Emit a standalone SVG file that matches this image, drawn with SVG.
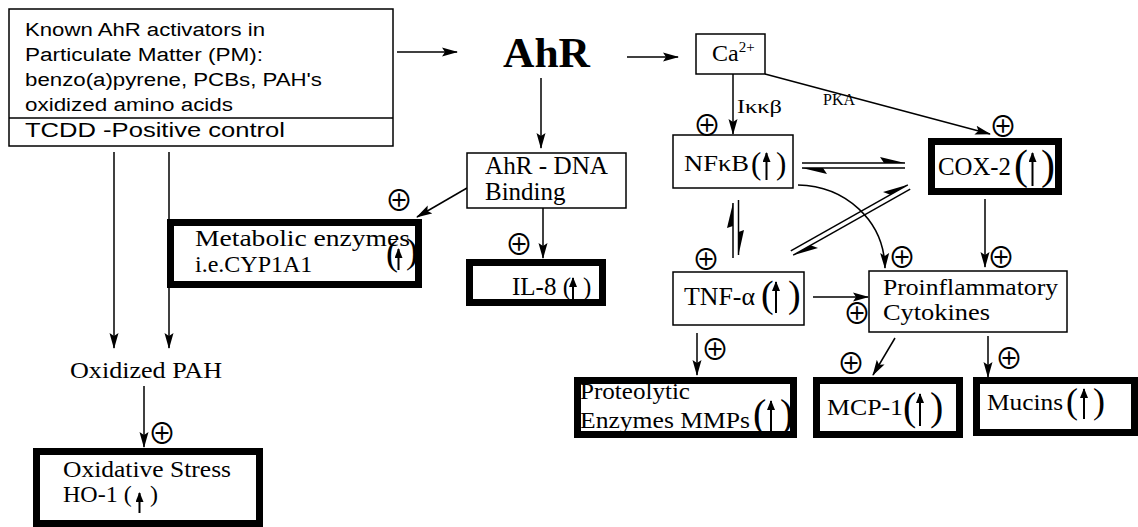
<svg xmlns="http://www.w3.org/2000/svg" width="1138" height="527" viewBox="0 0 1138 527">
<style>
.box{fill:#fff;stroke:#000;stroke-width:1.5}
.thick{fill:#fff;stroke:#000;stroke-width:7}
.ser{font-family:"Liberation Serif","Times New Roman",serif;fill:#000}
.sans{font-family:"Liberation Sans",Arial,sans-serif;fill:#000}
.con{stroke:#000;stroke-width:1.5;fill:none}
.up{stroke:#000;stroke-width:2;fill:none}
.plus{font-family:"Noto Sans CJK JP","DejaVu Sans",sans-serif;font-size:28px;font-weight:400;text-anchor:middle;dominant-baseline:central;fill:#000}
.barb{fill:#000;stroke:none}
</style>
<defs>
<marker id="ah" markerWidth="16" markerHeight="10" refX="15" refY="5" orient="auto" markerUnits="userSpaceOnUse"><path d="M0,0.5 L16,5 L0,9.5 L3,5 z" fill="#000"/></marker>
<marker id="sh" markerWidth="10" markerHeight="8" refX="9" refY="4" orient="auto" markerUnits="userSpaceOnUse"><path d="M0,0 L10,4 L0,8 z" fill="#000"/></marker>
</defs>
<rect width="1138" height="527" fill="#fff"/>

<g id="connectors">
<line class="con" x1="397" y1="52" x2="457" y2="52" marker-end="url(#ah)"/>
<line class="con" x1="627" y1="57" x2="678" y2="57" marker-end="url(#ah)"/>
<line class="con" x1="541" y1="78" x2="541" y2="148" marker-end="url(#ah)"/>
<line class="con" x1="733" y1="74" x2="733" y2="134" marker-end="url(#ah)"/>
<line class="con" x1="765" y1="74" x2="990" y2="134" marker-end="url(#ah)"/>
<line class="con" x1="467" y1="188" x2="417" y2="217" marker-end="url(#ah)"/>
<line class="con" x1="543" y1="208" x2="543" y2="258" marker-end="url(#ah)"/>
<line class="con" x1="114" y1="152" x2="114" y2="348" marker-end="url(#ah)"/>
<line class="con" x1="169" y1="152" x2="169" y2="348" marker-end="url(#ah)"/>
<line class="con" x1="144" y1="386" x2="144" y2="447" marker-end="url(#ah)"/>
<line class="con" x1="802" y1="163" x2="905" y2="163"/>
<polygon class="barb" points="905,163 880,157 884,163"/>
<line class="con" x1="802" y1="168" x2="905" y2="168"/>
<polygon class="barb" points="802,168 827,174 823,168"/>
<path class="con" d="M798,185 C845,186 884,220 885,268" marker-end="url(#ah)"/>
<line class="con" x1="733" y1="203" x2="733" y2="258"/>
<polygon class="barb" points="733,203 727,228 733,226"/>
<line class="con" x1="738.5" y1="200" x2="738.5" y2="255"/>
<polygon class="barb" points="738.5,255 744,230 738.5,232"/>
<line class="con" x1="790.8" y1="250.8" x2="907.8" y2="184.8"/>
<polygon class="barb" points="907.8,184.8 883,191.9 890.3,194.7"/>
<line class="con" x1="793.2" y1="255.2" x2="910.2" y2="189.2"/>
<polygon class="barb" points="793.2,255.2 818,248.1 810.7,245.3"/>
<line class="con" x1="985" y1="199" x2="985" y2="267" marker-end="url(#ah)"/>
<line class="con" x1="813" y1="297" x2="868" y2="297" marker-end="url(#ah)"/>
<line class="con" x1="697" y1="333" x2="697" y2="375" marker-end="url(#ah)"/>
<line class="con" x1="895" y1="338" x2="873" y2="375" marker-end="url(#ah)"/>
<line class="con" x1="988" y1="336" x2="988" y2="377" marker-end="url(#ah)"/>
</g>

<g id="pm-source">
<rect class="box" x="9" y="9" width="384" height="137"/>
<line class="con" x1="9" y1="118" x2="393" y2="118"/>
<text class="sans" font-size="18" x="25" y="36" textLength="240" lengthAdjust="spacingAndGlyphs">Known AhR activators in</text>
<text class="sans" font-size="18" x="25" y="61" textLength="238" lengthAdjust="spacingAndGlyphs">Particulate Matter (PM):</text>
<text class="sans" font-size="18" x="25" y="86" textLength="297" lengthAdjust="spacingAndGlyphs">benzo(a)pyrene, PCBs, PAH's</text>
<text class="sans" font-size="18" x="25" y="111" textLength="208" lengthAdjust="spacingAndGlyphs">oxidized amino acids</text>
<text class="sans" font-size="21" x="25" y="137" textLength="260" lengthAdjust="spacingAndGlyphs">TCDD -Positive control</text>
</g>

<g id="ahr">
<text class="ser" font-size="42" font-weight="bold" x="503" y="67" textLength="87" lengthAdjust="spacingAndGlyphs">AhR</text>
</g>

<g id="ca">
<rect class="box" x="696" y="34" width="69" height="40"/>
<text class="ser" font-size="24" x="712" y="61">Ca<tspan font-size="15" dy="-9">2+</tspan></text>
<text class="ser" font-size="19" x="737" y="113" textLength="45" lengthAdjust="spacingAndGlyphs">Iκκβ</text>
<text class="ser" font-size="16" x="823" y="105">PKA</text>
</g>

<g id="ahr-dna">
<rect class="box" x="467" y="153" width="159" height="55"/>
<text class="ser" font-size="25" x="485" y="174" textLength="123" lengthAdjust="spacingAndGlyphs">AhR - DNA</text>
<text class="ser" font-size="25" x="485" y="200">Binding</text>
</g>

<g id="metabolic">
<rect class="thick" x="170.5" y="222.5" width="248" height="62"/>
<text class="ser" font-size="24" x="195" y="246" textLength="215" lengthAdjust="spacingAndGlyphs">Metabolic enzymes</text>
<text class="ser" font-size="24" x="195" y="272">i.e.CYP1A1</text>
<text class="ser" font-size="36" x="386" y="265">(</text>
<text class="ser" font-size="36" x="406" y="263">)</text>
<line class="up" x1="398.5" y1="270" x2="398.5" y2="249" marker-end="url(#sh)"/>
<text class="plus" x="399" y="199">⊕</text>
</g>

<g id="il8">
<rect class="thick" x="469.5" y="262.5" width="133" height="40"/>
<text class="ser" font-size="25" x="512" y="295">IL-8 (</text>
<text class="ser" font-size="25" x="583" y="295">)</text>
<line class="up" x1="573" y1="300" x2="573" y2="278" marker-end="url(#sh)"/>
<text class="plus" x="519" y="243">⊕</text>
</g>

<g id="nfkb">
<rect class="box" x="673" y="135" width="120" height="53"/>
<text class="ser" font-size="24" x="684" y="171" textLength="65" lengthAdjust="spacingAndGlyphs">NFκB</text>
<text class="ser" font-size="31" x="751" y="174">(</text>
<text class="ser" font-size="31" x="776" y="174">)</text>
<line class="up" x1="766.5" y1="180" x2="766.5" y2="153" marker-end="url(#sh)"/>
<text class="plus" x="707" y="124">⊕</text>
</g>

<g id="cox2">
<rect class="thick" x="931.5" y="141.5" width="127" height="50"/>
<text class="ser" font-size="25" x="938" y="175" textLength="73" lengthAdjust="spacingAndGlyphs">COX-2</text>
<text class="ser" font-size="42" x="1014" y="179">(</text>
<text class="ser" font-size="42" x="1041" y="179">)</text>
<line class="up" x1="1032.5" y1="186" x2="1032.5" y2="153" marker-end="url(#sh)"/>
<text class="plus" x="1003" y="125">⊕</text>
</g>

<g id="tnf">
<rect class="box" x="673" y="272" width="131" height="53"/>
<text class="ser" font-size="25" x="684" y="305" textLength="71" lengthAdjust="spacingAndGlyphs">TNF-α</text>
<text class="ser" font-size="38" x="761" y="307">(</text>
<text class="ser" font-size="38" x="788" y="307">)</text>
<line class="up" x1="776" y1="313" x2="776" y2="282" marker-end="url(#sh)"/>
<text class="plus" x="706" y="258">⊕</text>
</g>

<g id="proinflammatory">
<rect class="box" x="869" y="271" width="198" height="61"/>
<text class="ser" font-size="24" x="883" y="295" textLength="175" lengthAdjust="spacingAndGlyphs">Proinflammatory</text>
<text class="ser" font-size="24" x="883" y="320" textLength="107" lengthAdjust="spacingAndGlyphs">Cytokines</text>
<text class="plus" x="902" y="256">⊕</text>
<text class="plus" x="1001" y="256">⊕</text>
<text class="plus" x="857" y="312">⊕</text>
</g>

<g id="proteolytic">
<rect class="thick" x="577.5" y="380.5" width="216" height="54"/>
<text class="ser" font-size="24" x="580" y="399" textLength="110" lengthAdjust="spacingAndGlyphs">Proteolytic</text>
<text class="ser" font-size="24" x="580" y="428" textLength="170" lengthAdjust="spacingAndGlyphs">Enzymes MMPs</text>
<text class="ser" font-size="40" x="753" y="427">(</text>
<text class="ser" font-size="40" x="780" y="427">)</text>
<line class="up" x1="771" y1="433" x2="771" y2="401" marker-end="url(#sh)"/>
<text class="plus" x="715" y="348">⊕</text>
</g>

<g id="mcp1">
<rect class="thick" x="816.5" y="380.5" width="143" height="54"/>
<text class="ser" font-size="24" x="827" y="415" textLength="76" lengthAdjust="spacingAndGlyphs">MCP-1</text>
<text class="ser" font-size="40" x="903" y="420">(</text>
<text class="ser" font-size="40" x="930" y="420">)</text>
<line class="up" x1="920" y1="426" x2="920" y2="394" marker-end="url(#sh)"/>
<text class="plus" x="851" y="362">⊕</text>
</g>

<g id="mucins">
<rect class="thick" x="976.5" y="380.5" width="158" height="52"/>
<text class="ser" font-size="24" x="987" y="410" textLength="76" lengthAdjust="spacingAndGlyphs">Mucins</text>
<text class="ser" font-size="36" x="1066" y="413">(</text>
<text class="ser" font-size="36" x="1093" y="413">)</text>
<line class="up" x1="1084" y1="419" x2="1084" y2="389" marker-end="url(#sh)"/>
<text class="plus" x="1009" y="357">⊕</text>
</g>

<g id="oxidized-pah">
<text class="ser" font-size="24" x="70" y="378" textLength="152" lengthAdjust="spacingAndGlyphs">Oxidized PAH</text>
<text class="plus" x="162" y="432">⊕</text>
</g>

<g id="oxidative-stress">
<rect class="thick" x="36.5" y="451.5" width="223" height="72"/>
<text class="ser" font-size="24" x="63" y="477" textLength="168" lengthAdjust="spacingAndGlyphs">Oxidative Stress</text>
<text class="ser" font-size="24" x="63" y="502">HO-1 (</text>
<text class="ser" font-size="24" x="150" y="502">)</text>
<line class="up" x1="139.5" y1="513" x2="139.5" y2="493" marker-end="url(#sh)"/>
</g>
</svg>
